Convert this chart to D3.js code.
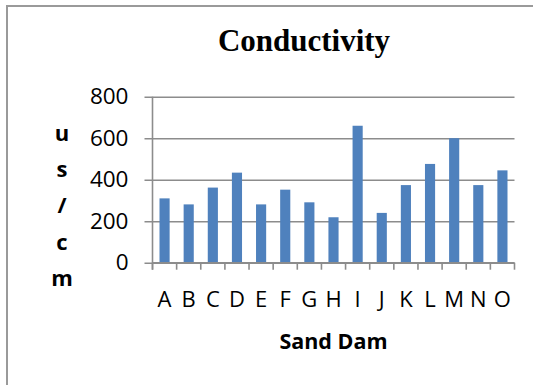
<!DOCTYPE html>
<html>
<head>
<meta charset="utf-8">
<script src="https://cdn.jsdelivr.net/npm/d3@7"></script>
<style>
  html, body { margin: 0; padding: 0; background: #fff; }
  svg { display: block; }
</style>
</head>
<body>
<svg id="chart" width="533" height="385"></svg>
<script>
// Conductivity readings per sand dam
const dams = ["A","B","C","D","E","F","G","H","I","J","K","L","M","N","O"];
const conductivity = [310, 281, 362, 434, 281, 352, 291, 219, 660, 240, 374, 476, 600, 374, 445];
const yTicks = [0, 200, 400, 600, 800];
const yTitleChars = ["u","s","/","c","m"];

const svg = d3.select("#chart");
const sansFont = "'Open Sans', 'Noto Sans', sans-serif";

// Chart-area frame
svg.append("rect")
  .attr("x", 7).attr("y", 6)
  .attr("width", 600).attr("height", 500)
  .attr("fill", "#fff")
  .attr("stroke", "#9a9a9a")
  .attr("stroke-width", 2);

const plot = { left: 152.5, right: 514.5, top: 96.7, bottom: 262.7 };

const x = d3.scaleBand()
  .domain(dams)
  .range([plot.left, plot.right])
  .paddingInner(0.58)
  .paddingOuter(0.29);

const y = d3.scaleLinear()
  .domain([0, 800])
  .range([plot.bottom, plot.top]);

// Horizontal gridlines with the y axis ticks
const yAxis = svg.append("g")
  .attr("transform", `translate(${plot.left},0)`)
  .call(d3.axisLeft(y).tickValues(yTicks).tickSize(-(plot.right - plot.left)).tickSizeOuter(0).tickPadding(24));
yAxis.select(".domain").remove();
yAxis.selectAll(".tick line")
  .attr("x1", -8)
  .attr("stroke", "#8c8c8c")
  .attr("stroke-width", 1.6);
yAxis.selectAll(".tick text")
  .attr("font-family", sansFont)
  .attr("font-size", 22.5)
  .attr("fill", "#000");

// Vertical axis line
svg.append("line")
  .attr("x1", plot.left).attr("x2", plot.left)
  .attr("y1", plot.top).attr("y2", plot.bottom + 7)
  .attr("stroke", "#8c8c8c")
  .attr("stroke-width", 1.6);

// Bars
svg.append("g")
  .selectAll("rect")
  .data(conductivity)
  .join("rect")
  .attr("x", (d, i) => x(dams[i]))
  .attr("width", x.bandwidth())
  .attr("y", d => y(d))
  .attr("height", d => y(0) - y(d))
  .attr("fill", "#4f81bd");

// Category axis with tick marks between categories
const step = x.step();
const boundaries = d3.range(dams.length + 1).map(i => plot.left + i * step);
svg.append("g")
  .selectAll("line")
  .data(boundaries)
  .join("line")
  .attr("x1", d => d).attr("x2", d => d)
  .attr("y1", plot.bottom).attr("y2", plot.bottom + 7)
  .attr("stroke", "#8c8c8c")
  .attr("stroke-width", 1.6);
svg.append("line")
  .attr("x1", plot.left).attr("x2", plot.right)
  .attr("y1", plot.bottom).attr("y2", plot.bottom)
  .attr("stroke", "#8c8c8c")
  .attr("stroke-width", 1.6);

svg.append("g")
  .selectAll("text")
  .data(dams)
  .join("text")
  .attr("x", d => x(d) + x.bandwidth() / 2)
  .attr("y", 307)
  .attr("text-anchor", "middle")
  .attr("font-family", sansFont)
  .attr("font-size", 22)
  .attr("fill", "#000")
  .text(d => d);

// Titles
svg.append("text")
  .attr("x", 304).attr("y", 51)
  .attr("text-anchor", "middle")
  .attr("font-family", "'Liberation Serif', 'Times New Roman', serif")
  .attr("font-weight", "bold")
  .attr("font-size", 31)
  .attr("fill", "#000")
  .text("Conductivity");

svg.append("text")
  .attr("x", (plot.left + plot.right) / 2).attr("y", 349)
  .attr("text-anchor", "middle")
  .attr("font-family", sansFont)
  .attr("font-weight", "bold")
  .attr("font-size", 21.5)
  .attr("fill", "#000")
  .text("Sand Dam");

svg.append("g")
  .selectAll("text")
  .data(yTitleChars)
  .join("text")
  .attr("x", 62)
  .attr("y", (d, i) => 141 + i * 36.2)
  .attr("text-anchor", "middle")
  .attr("font-family", sansFont)
  .attr("font-weight", "bold")
  .attr("font-size", 22)
  .attr("fill", "#000")
  .text(d => d);
</script>
</body>
</html>
